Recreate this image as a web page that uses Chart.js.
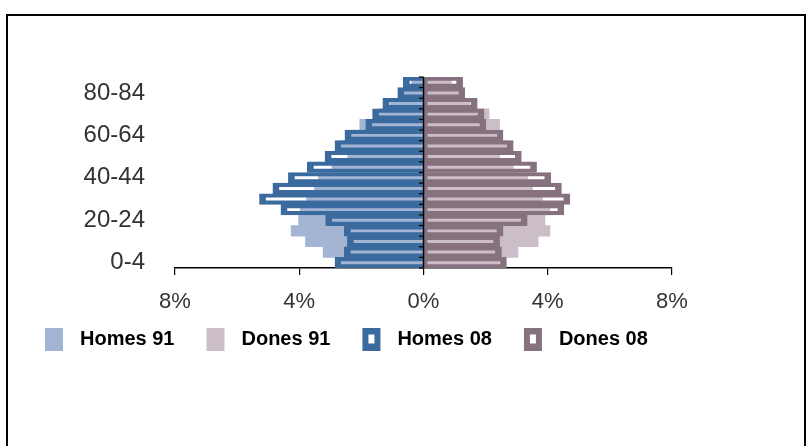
<!DOCTYPE html>
<html><head><meta charset="utf-8">
<script src="https://cdn.jsdelivr.net/npm/chart.js@4.4.0/dist/chart.umd.min.js"></script>
<style>
html,body{margin:0;padding:0;background:#fff;width:808px;height:446px;overflow:hidden;}
#frame{position:absolute;left:6px;top:14px;width:796px;height:440px;border:2px solid #000;border-bottom:none;}
#wrap{position:absolute;left:0;top:0;width:808px;height:446px;}
</style></head><body>
<div id="frame"></div>
<div id="wrap"><canvas id="c" width="808" height="446"></canvas></div>
<script>
// Age groups, bottom (0-4) to top (85+)
const ageGroups = ['0-4','5-9','10-14','15-19','20-24','25-29','30-34','35-39','40-44','45-49','50-54','55-59','60-64','65-69','70-74','75-79','80-84','85+'];
// Percent of total population
const homes91 = [2.63, 3.23, 3.80, 4.26, 4.02, 3.97, 3.76, 3.51, 3.38, 2.95, 2.44, 2.63, 2.33, 2.05, 1.45, 1.08, 0.65, 0.38];
const dones91 = [2.44, 3.04, 3.69, 4.07, 3.91, 4.07, 3.83, 3.51, 3.35, 2.89, 2.45, 2.72, 2.33, 2.45, 2.11, 1.49, 1.12, 0.90];
const homes08 = [2.85, 2.55, 2.45, 2.55, 3.15, 4.59, 5.28, 4.85, 4.35, 3.74, 3.17, 2.85, 2.53, 1.86, 1.64, 1.31, 0.83, 0.65];
const dones08 = [2.67, 2.51, 2.45, 2.56, 3.34, 4.52, 4.71, 4.44, 4.10, 3.64, 3.15, 2.89, 2.56, 2.01, 1.95, 1.73, 1.33, 1.26];
const xTicks = [-8, -4, 0, 4, 8];
const seriesNames = ['Homes 91', 'Dones 91', 'Homes 08', 'Dones 08'];

const C_H91 = '#a4b5d3', C_D91 = '#ccbec9', C_H08 = '#3a6a9e', C_D08 = '#86717f';

function legendIcon(color, hollow) {
  const cv = document.createElement('canvas');
  cv.width = 42; cv.height = 23;
  const g = cv.getContext('2d');
  g.fillStyle = color; g.fillRect(17, 0, 18, 23);
  if (hollow) { g.fillStyle = '#fff'; g.fillRect(23, 7, 6, 9); }
  return cv;
}
const icons = [legendIcon(C_H91,false), legendIcon(C_D91,false), legendIcon(C_H08,true), legendIcon(C_D08,true)];

const centerAxis = {
  id: 'centerAxis',
  afterDatasetsDraw(chart) {
    const x = chart.scales.x, y = chart.scales.y, ctx = chart.ctx;
    const x0 = x.getPixelForValue(0);
    ctx.save();
    ctx.strokeStyle = '#000';
    ctx.lineWidth = 1.5;
    ctx.beginPath();
    ctx.moveTo(x0, chart.chartArea.top);
    ctx.lineTo(x0, chart.chartArea.bottom);
    ctx.stroke();
    ctx.lineWidth = 1.2;
    for (let i = 0; i <= ageGroups.length; i++) {
      const yy = y.getPixelForValue(i - 0.5);
      ctx.beginPath();
      ctx.moveTo(x0 - 4.5, yy);
      ctx.lineTo(x0, yy);
      ctx.stroke();
    }
    ctx.restore();
  }
};

new Chart(document.getElementById('c'), {
  type: 'bar',
  data: {
    labels: ageGroups,
    datasets: [
      { label: seriesNames[0], data: homes91.map(v => -v), backgroundColor: C_H91, borderWidth: 0, order: 2 },
      { label: seriesNames[1], data: dones91, backgroundColor: C_D91, borderWidth: 0, order: 2 },
      { label: seriesNames[2], data: homes08.map(v => -v), backgroundColor: 'rgba(0,0,0,0)', borderColor: C_H08,
        borderWidth: {top: 3.5, bottom: 3.5, left: 6, right: 0}, borderSkipped: false, order: 1 },
      { label: seriesNames[3], data: dones08, backgroundColor: 'rgba(0,0,0,0)', borderColor: C_D08,
        borderWidth: {top: 3.5, bottom: 3.5, left: 3, right: 6}, borderSkipped: false, order: 1 }
    ]
  },
  options: {
    indexAxis: 'y',
    responsive: false,
    animation: false,
    devicePixelRatio: 1,
    datasets: { bar: { grouped: false, barPercentage: 1, categoryPercentage: 1 } },
    layout: { padding: { left: 13, right: 136, top: 77, bottom: 87 } },
    scales: {
      x: {
        min: -8, max: 8,
        afterBuildTicks(s) { s.ticks = xTicks.map(v => ({ value: v })); },
        afterFit(s) { s.height = 46; },
        ticks: {
          callback: v => Math.abs(v) + '%',
          color: '#333',
          font: { family: 'Liberation Sans, Arial, sans-serif', size: 22 },
          padding: 14, maxRotation: 0
        },
        grid: { drawOnChartArea: false, drawTicks: true, tickLength: 7, color: '#000', lineWidth: 1.2 },
        border: { display: true, color: '#000', width: 1.5 }
      },
      y: {
        reverse: true,
        afterFit(s) { s.width = 162; },
        ticks: {
          autoSkip: false,
          callback: function (v, i) { return i % 4 === 0 ? this.getLabelForValue(v) : ''; },
          color: '#333',
          font: { family: 'Liberation Sans, Arial, sans-serif', size: 24 },
          padding: 22
        },
        grid: { display: false },
        border: { display: false }
      }
    },
    plugins: {
      tooltip: { enabled: false },
      legend: {
        position: 'bottom',
        align: 'start',
        labels: {
          usePointStyle: true,
          pointStyleWidth: 42,
          padding: 15,
          color: '#000',
          font: { family: 'Liberation Sans, Arial, sans-serif', size: 20, weight: 'bold' },
          generateLabels: () => seriesNames.map((n, i) => ({
            text: n, pointStyle: icons[i], fillStyle: '#fff', strokeStyle: '#fff', lineWidth: 0,
            hidden: false, datasetIndex: i, fontColor: '#000'
          }))
        }
      }
    }
  },
  plugins: [centerAxis]
});
</script>
</body></html>
